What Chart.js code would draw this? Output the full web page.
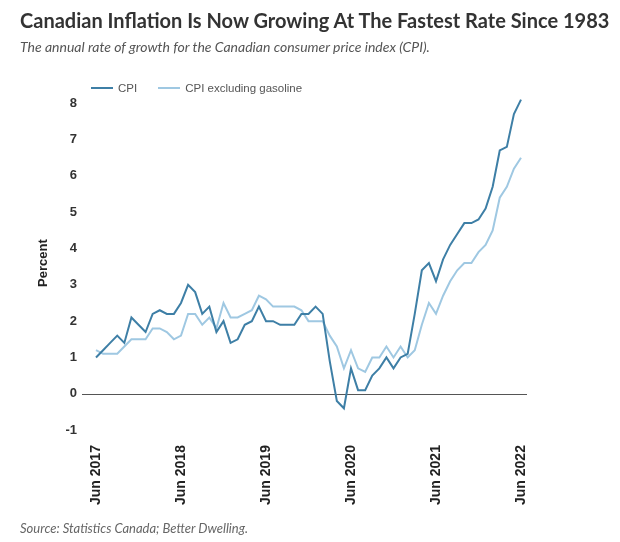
<!DOCTYPE html>
<html>
<head>
<meta charset="utf-8">
<script src="https://cdn.jsdelivr.net/npm/chart.js@4.4.0/dist/chart.umd.min.js"></script>
<style>
  body { margin: 0; background: #fff; width: 620px; height: 542px; position: relative; overflow: hidden; }
  #title { position: absolute; left: 20px; top: 8px; font: bold 20px Lato, sans-serif; color: #333; white-space: nowrap; }
  #subtitle { position: absolute; left: 20px; top: 38px; font: italic 14px Lato, sans-serif; color: #555; white-space: nowrap; }
  #source { position: absolute; left: 20px; top: 520px; font: italic 13px Lato, sans-serif; color: #666; white-space: nowrap; }
  #wrap { position: absolute; left: 0; top: 0; width: 620px; height: 542px; }
  #legend { position: absolute; left: 91px; top: 82px; display: flex; align-items: center; font: 11.5px 'Liberation Sans', Arial, sans-serif; color: #555; }
  #legend .item { display: flex; align-items: center; margin-right: 21px; }
  #legend .swatch { width: 22px; height: 2px; margin-right: 5px; }
</style>
</head>
<body>
<div id="wrap"><canvas id="chart"></canvas></div>
<div id="title">Canadian Inflation Is Now Growing At The Fastest Rate Since 1983</div>
<div id="subtitle">The annual rate of growth for the Canadian consumer price index (CPI).</div>
<div id="legend"></div>
<div id="source">Source: Statistics Canada; Better Dwelling.</div>
<script>
// monthly categories, Jun 2017 - Jun 2022
const months = [
  "Jun 2017","Jul 2017","Aug 2017","Sep 2017","Oct 2017","Nov 2017","Dec 2017",
  "Jan 2018","Feb 2018","Mar 2018","Apr 2018","May 2018","Jun 2018","Jul 2018","Aug 2018","Sep 2018","Oct 2018","Nov 2018","Dec 2018",
  "Jan 2019","Feb 2019","Mar 2019","Apr 2019","May 2019","Jun 2019","Jul 2019","Aug 2019","Sep 2019","Oct 2019","Nov 2019","Dec 2019",
  "Jan 2020","Feb 2020","Mar 2020","Apr 2020","May 2020","Jun 2020","Jul 2020","Aug 2020","Sep 2020","Oct 2020","Nov 2020","Dec 2020",
  "Jan 2021","Feb 2021","Mar 2021","Apr 2021","May 2021","Jun 2021","Jul 2021","Aug 2021","Sep 2021","Oct 2021","Nov 2021","Dec 2021",
  "Jan 2022","Feb 2022","Mar 2022","Apr 2022","May 2022","Jun 2022"
];
// labels shown on the x axis
const shownTicks = ["Jun 2017","Jun 2018","Jun 2019","Jun 2020","Jun 2021","Jun 2022"];
// y axis tick values
const yTicks = [-1, 0, 1, 2, 3, 4, 5, 6, 7, 8];

const cpi = [
  1.0,1.2,1.4,1.6,1.4,2.1,1.9,
  1.7,2.2,2.3,2.2,2.2,2.5,3.0,2.8,2.2,2.4,1.7,2.0,
  1.4,1.5,1.9,2.0,2.4,2.0,2.0,1.9,1.9,1.9,2.2,2.2,
  2.4,2.2,0.9,-0.2,-0.4,0.7,0.1,0.1,0.5,0.7,1.0,0.7,
  1.0,1.1,2.2,3.4,3.6,3.1,3.7,4.1,4.4,4.7,4.7,4.8,
  5.1,5.7,6.7,6.8,7.7,8.1
];
const cpiExGas = [
  1.2,1.1,1.1,1.1,1.3,1.5,1.5,
  1.5,1.8,1.8,1.7,1.5,1.6,2.2,2.2,1.9,2.1,1.8,2.5,
  2.1,2.1,2.2,2.3,2.7,2.6,2.4,2.4,2.4,2.4,2.3,2.0,
  2.0,2.0,1.6,1.3,0.7,1.2,0.7,0.6,1.0,1.0,1.3,1.0,
  1.3,1.0,1.2,1.9,2.5,2.2,2.7,3.1,3.4,3.6,3.6,3.9,
  4.1,4.5,5.4,5.7,6.2,6.5
];

const darkBlue = "#3e7fa6";
const lightBlue = "#9fc8e2";
const axisFont = "'Liberation Sans', Arial, sans-serif";

//draws the horizontal line at zero, a bit wider than the plot
const zeroLine = {
  id: "zeroLine",
  beforeDatasetsDraw(chart) {
    const ctx = chart.ctx;
    const y = Math.round(chart.scales.y.getPixelForValue(0)) + 0.5;
    ctx.save();
    ctx.strokeStyle = "#555";
    ctx.lineWidth = 1;
    ctx.beginPath();
    ctx.moveTo(chart.chartArea.left - 14, y);
    ctx.lineTo(chart.chartArea.right + 6, y);
    ctx.stroke();
    ctx.restore();
  }
};

const chart = new Chart(document.getElementById("chart"), {
  type: "line",
  plugins: [zeroLine],
  data: {
    labels: months,
    datasets: [
      { label: "CPI", data: cpi, borderColor: darkBlue, backgroundColor: darkBlue, borderWidth: 2, pointRadius: 0, tension: 0 },
      { label: "CPI excluding gasoline", data: cpiExGas, borderColor: lightBlue, backgroundColor: lightBlue, borderWidth: 2, pointRadius: 0, tension: 0 }
    ]
  },
  options: {
    responsive: true,
    maintainAspectRatio: false,
    animation: false,
    layout: { padding: { top: 96, left: 30, right: 99, bottom: 22 } },
    plugins: {
      tooltip: { enabled: false },
      legend: { display: false }
    },
    scales: {
      x: {
        type: "category",
        offset: false,
        grid: { display: false, drawTicks: false },
        border: { display: false },
        ticks: {
          autoSkip: false,
          maxRotation: 90,
          minRotation: 90,
          padding: 15,
          color: "#222",
          font: { family: axisFont, size: 14, weight: "bold" },
          callback(v, i) {
            const l = months[i];
            return shownTicks.includes(l) ? l : "";
          }
        }
      },
      y: {
        min: -1,
        max: 8.2,
        afterFit(scale) { scale.width = 66; },
        afterBuildTicks(scale) {
          scale.ticks = yTicks.map(v => ({ value: v }));
        },
        grid: { display: false, drawTicks: false },
        border: { display: false },
        title: {
          display: true,
          text: "Percent",
          color: "#222",
          padding: { top: 6, bottom: 0 },
          font: { family: axisFont, size: 13, weight: "bold" }
        },
        ticks: {
          padding: 19,
          color: "#333",
          font: { family: axisFont, size: 13, weight: "bold" }
        }
      }
    }
  }
});

//legend built from the chart's datasets
const legendEl = document.getElementById("legend");
chart.data.datasets.forEach(ds => {
  const item = document.createElement("div");
  item.className = "item";
  const sw = document.createElement("span");
  sw.className = "swatch";
  sw.style.background = ds.borderColor;
  item.appendChild(sw);
  item.appendChild(document.createTextNode(ds.label));
  legendEl.appendChild(item);
});
</script>
</body>
</html>
